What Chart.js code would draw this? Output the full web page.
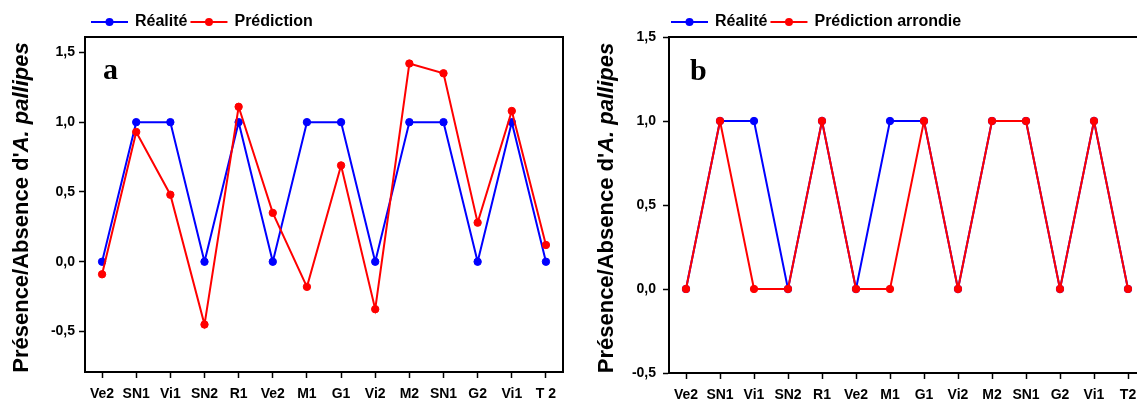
<!DOCTYPE html>
<html>
<head>
<meta charset="utf-8">
<script src="https://cdn.jsdelivr.net/npm/chart.js@4.4.1/dist/chart.umd.min.js"></script>
<style>
html,body{margin:0;padding:0;background:#fff;overflow:hidden;width:1137px;height:401px;}
#wa{position:absolute;left:0;top:0;width:575px;height:401px;}
#wb{position:absolute;left:575px;top:0;width:575px;height:401px;}
</style>
</head>
<body>
<div id="wa"><canvas id="ca" width="575" height="401"></canvas></div>
<div id="wb"><canvas id="cb" width="575" height="401"></canvas></div>
<script>
// ---- data ----
const categoriesA = ["Ve2","SN1","Vi1","SN2","R1","Ve2","M1","G1","Vi2","M2","SN1","G2","Vi1","T 2"];
const categoriesB = ["Ve2","SN1","Vi1","SN2","R1","Ve2","M1","G1","Vi2","M2","SN1","G2","Vi1","T2"];
const realite = [0,1,1,0,1,0,1,1,0,1,1,0,1,0];
const prediction = [-0.09,0.93,0.48,-0.45,1.11,0.35,-0.18,0.69,-0.34,1.42,1.35,0.28,1.08,0.12];
const predictionArrondie = [0,1,0,0,1,0,0,1,0,1,1,0,1,0];
const yTicksA = [-0.5,0,0.5,1.0,1.5];
const yTicksB = [-0.5,0,0.5,1.0,1.5];
const legendA = ["Réalité","Prédiction"];
const legendB = ["Réalité","Prédiction arrondie"];
const titleMain = "Présence/Absence d'";
const titleItalic = "A. pallipes";

const BLUE = "#0000ff", RED = "#ff0000";
const SANS = "'Liberation Sans', Arial, sans-serif";

function fmt(v){ return Number(v).toFixed(1).replace('.', ','); }

const deco = {
  id: 'deco',
  afterDraw(chart, args, o) {
    const ctx = chart.ctx, ca = chart.chartArea;
    ctx.save();
    // frame
    ctx.strokeStyle = '#000'; ctx.lineWidth = 2;
    ctx.strokeRect(ca.left, ca.top, ca.right - ca.left, ca.bottom - ca.top);
    // panel letter
    ctx.fillStyle = '#000';
    ctx.font = "bold 30px 'Liberation Serif', 'Times New Roman', serif";
    ctx.textAlign = 'left'; ctx.textBaseline = 'alphabetic';
    ctx.fillText(o.letter, o.letterX, o.letterY);
    // y title (rotated, mixed styles)
    const f1 = "bold 22px " + SANS, f2 = "italic bold 22px " + SANS;
    ctx.font = f1; const w1 = ctx.measureText(titleMain).width;
    ctx.font = f2; const w2 = ctx.measureText(titleItalic).width;
    const cy = (ca.top + ca.bottom) / 2 + 3;
    ctx.translate(o.titleX, cy);
    ctx.rotate(-Math.PI / 2);
    ctx.textBaseline = 'middle';
    let x = -(w1 + w2) / 2;
    ctx.font = f1; ctx.fillText(titleMain, x, 0);
    ctx.font = f2; ctx.fillText(titleItalic, x + w1, 0);
    ctx.restore();
    // legend
    ctx.save();
    ctx.font = "bold 16px " + SANS;
    ctx.textBaseline = 'middle'; ctx.textAlign = 'left';
    let lx = o.legendX; const ly = o.legendY;
    const items = [0, 1];
    items.forEach(i => {
      const ds = chart.data.datasets[i];
      ctx.strokeStyle = ds.borderColor; ctx.lineWidth = 2;
      ctx.beginPath(); ctx.moveTo(lx, ly); ctx.lineTo(lx + 37, ly); ctx.stroke();
      ctx.fillStyle = ds.borderColor;
      ctx.beginPath(); ctx.arc(lx + 18.5, ly, 4, 0, Math.PI * 2); ctx.fill();
      ctx.fillStyle = '#000';
      ctx.fillText(ds.label, lx + 44, ly);
      lx += 44 + ctx.measureText(ds.label).width + 3;
    });
    ctx.restore();
  }
};

function makeChart(id, cats, s1, s2, labels, yTicks, ymin, ymax, yWidth, padRight, bottomH, yPad, decoOpts) {
  return new Chart(document.getElementById(id), {
    type: 'line',
    data: {
      labels: cats,
      datasets: [
        { label: labels[0], data: s1, borderColor: BLUE, backgroundColor: BLUE, borderWidth: 2,
          pointRadius: 3.7, pointBorderWidth: 1, pointBackgroundColor: BLUE, pointBorderColor: BLUE, order: 1, tension: 0 },
        { label: labels[1], data: s2, borderColor: RED, backgroundColor: RED, borderWidth: 2,
          pointRadius: 3.7, pointBorderWidth: 1, pointBackgroundColor: RED, pointBorderColor: RED, order: 0, tension: 0 }
      ]
    },
    options: {
      responsive: false, animation: false, devicePixelRatio: 1,
      layout: { padding: { top: 37, right: padRight, left: 0, bottom: 0 } },
      plugins: { legend: { display: false }, tooltip: { enabled: false }, deco: decoOpts },
      scales: {
        x: {
          offset: true,
          grid: { display: true, drawOnChartArea: false, drawTicks: true, tickLength: 6, tickWidth: 1.5, tickColor: '#000', offset: false },
          border: { display: true, color: '#000', width: 2 },
          ticks: { color: '#000', font: { family: SANS, size: 14, weight: 'bold' }, padding: 8, maxRotation: 0, autoSkip: false },
          afterFit(s) { s.height = bottomH; }
        },
        y: {
          min: ymin, max: ymax,
          afterBuildTicks(s) { s.ticks = yTicks.map(v => ({ value: v })); },
          grid: { display: true, drawOnChartArea: false, drawTicks: true, tickLength: 6, tickWidth: 1.5, tickColor: '#000' },
          border: { display: true, color: '#000', width: 2 },
          ticks: { color: '#000', font: { family: SANS, size: 14, weight: 'bold' }, padding: yPad, callback: v => fmt(v) },
          afterFit(s) { s.width = yWidth; }
        }
      }
    },
    plugins: [deco]
  });
}

makeChart('ca', categoriesA, realite, prediction, legendA, yTicksA, -0.79, 1.61, 85, 12, 29, 4,
  { letter: 'a', letterX: 103, letterY: 79, titleX: 22, legendX: 91, legendY: 22 });
makeChart('cb', categoriesB, realite, predictionArrondie, legendB, yTicksB, -0.5, 1.5, 94, 3, 28, 7,
  { letter: 'b', letterX: 115, letterY: 80, titleX: 32, legendX: 96, legendY: 22 });
</script>
</body>
</html>
